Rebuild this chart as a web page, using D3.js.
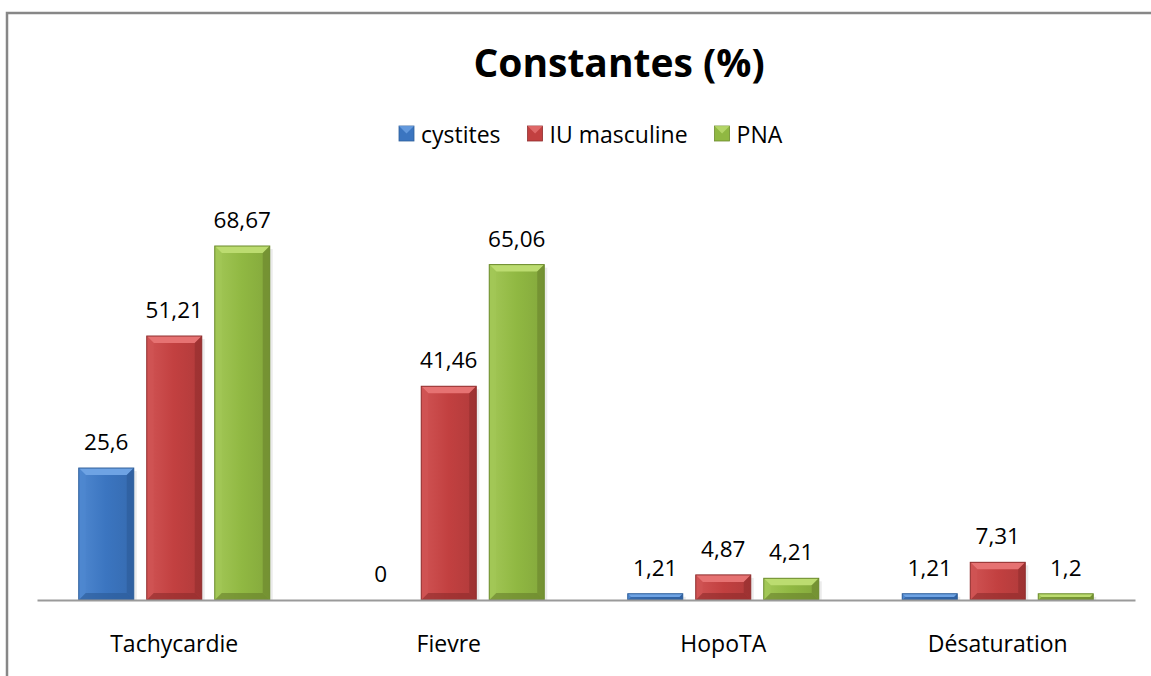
<!DOCTYPE html>
<html><head><meta charset="utf-8">
<script src="https://cdn.jsdelivr.net/npm/d3@7"></script>
<style>
html,body{margin:0;padding:0;background:#fff;}
svg{display:block;font-family:"Open Sans",sans-serif;}
</style></head>
<body><svg id="c" width="1151" height="676"></svg>
<script>
const categories = ["Tachycardie", "Fievre", "HopoTA", "Désaturation"];
const seriesNames = ["cystites", "IU masculine", "PNA"];
const cystites = [25.6, 0, 1.21, 1.21];
const iuMasculine = [51.21, 41.46, 4.87, 7.31];
const pna = [68.67, 65.06, 4.21, 1.2];
const title = "Constantes (%)";

const seriesValues = [cystites, iuMasculine, pna];
const palette = [
  {base:"#3b75c0", light:"#6ea3e4", side:"#4f88d0", dark:"#2b5a96", stroke:"#2f5f9a"},
  {base:"#c24040", light:"#e67272", side:"#d05454", dark:"#8e2b2b", stroke:"#8f2f2f"},
  {base:"#90b842", light:"#bcdc70", side:"#a3c757", dark:"#687f2c", stroke:"#6b8a2c"}
];

const svg = d3.select("#c");
const defs = svg.append("defs");
palette.forEach((p,i)=>{
  const g = defs.append("linearGradient").attr("id","g"+i).attr("x1",0).attr("x2",1).attr("y1",0).attr("y2",0);
  g.append("stop").attr("offset","0%").attr("stop-color",p.side);
  g.append("stop").attr("offset","50%").attr("stop-color",p.base);
  g.append("stop").attr("offset","100%").attr("stop-color",d3.color(p.base).darker(0.25));
});

// frame
svg.append("path").attr("d","M7,676 L7,13 L1151,13").attr("fill","none").attr("stroke","#878787").attr("stroke-width",2.5);

const x0 = d3.scaleBand().domain(categories).range([37,1135]).paddingInner(0).paddingOuter(0);
const y = d3.scaleLinear().domain([0,80]).range([600, 600-80*5.155]);
const barW = 55, gap = 13;
const x1 = d3.scalePoint().domain(seriesNames).range([-(barW+gap), barW+gap]);

// title
svg.append("text").attr("x",619).attr("y",77).attr("text-anchor","middle")
  .attr("font-size",39).attr("font-weight","bold").attr("fill","#000").text(title);

// legend
const leg = svg.append("g");
let lx = 399;
seriesNames.forEach((s,i)=>{
  const p = palette[i];
  const gg = leg.append("g");
  gg.append("rect").attr("x",lx).attr("y",126).attr("width",15).attr("height",15).attr("fill",p.base).attr("stroke",p.stroke).attr("stroke-width",0.8);
  gg.append("path").attr("d",`M${lx},126 L${lx+15},126 L${lx+7.5},133.5 Z`).attr("fill",p.light).attr("opacity",0.8);
  const t = gg.append("text").attr("x",lx+22).attr("y",143).attr("font-size",23).attr("fill","#000").text(s);
  const w = t.node().getComputedTextLength();
  lx = lx + 22 + w + 27;
});

// bars
const plot = svg.append("g");
categories.forEach((c,ci)=>{
  seriesNames.forEach((s,si)=>{
    const v = seriesValues[si][ci];
    const cx = x0(c) + x0.bandwidth()/2 + x1(s);
    const xa = cx - barW/2, xb = cx + barW/2;
    const yt = y(v), yb = y(0);
    const h = yb - yt;
    const p = palette[si];
    if (h > 0) {
      const b = Math.min(7, h/2);
      const g = plot.append("g");
      g.append("rect").attr("x",xb).attr("y",yt+3).attr("width",3).attr("height",h-3).attr("fill","#000").attr("opacity",0.08);
      g.append("rect").attr("x",xa).attr("y",yt).attr("width",barW).attr("height",h).attr("fill",`url(#g${si})`);
      g.append("path").attr("d",`M${xa},${yt} L${xb},${yt} L${xb-b},${yt+b} L${xa+b},${yt+b} Z`).attr("fill",p.light);
      g.append("path").attr("d",`M${xa},${yt} L${xa+b},${yt+b} L${xa+b},${yb-b} L${xa},${yb} Z`).attr("fill",p.side).attr("opacity",0.7);
      g.append("path").attr("d",`M${xb},${yt} L${xb-b},${yt+b} L${xb-b},${yb-b} L${xb},${yb} Z`).attr("fill",p.dark).attr("opacity",0.55);
      g.append("path").attr("d",`M${xa},${yb} L${xa+b},${yb-b} L${xb-b},${yb-b} L${xb},${yb} Z`).attr("fill",p.dark).attr("opacity",0.6);
      g.append("rect").attr("x",xa).attr("y",yt).attr("width",barW).attr("height",h).attr("fill","none").attr("stroke",p.stroke).attr("stroke-width",1);
    }
    plot.append("text").attr("x",cx).attr("y",yt-18).attr("text-anchor","middle")
      .attr("font-size",22.5).attr("fill","#000").text(String(v).replace(".",","));
  });
});

// axis
const xAxis = d3.axisBottom(x0).tickSize(0).tickPadding(0);
const ax = svg.append("g").attr("transform","translate(0,600)").call(xAxis);
ax.select(".domain").attr("stroke","#9a9a9a").attr("stroke-width",2);
ax.selectAll("text").attr("font-size",23).attr("fill","#000").attr("font-family","'Open Sans',sans-serif").attr("dy",0).attr("y",52);
</script></body></html>
